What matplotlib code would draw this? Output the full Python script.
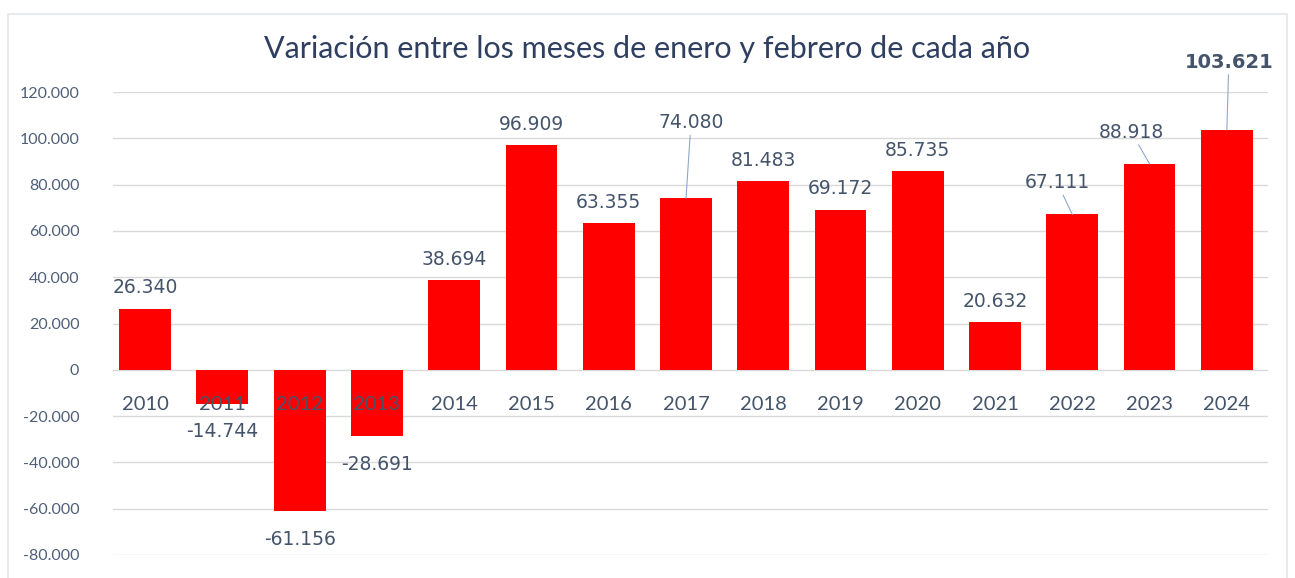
import matplotlib.pyplot as plt
from matplotlib.patches import Rectangle
from matplotlib.ticker import FuncFormatter

years = ['2010', '2011', '2012', '2013', '2014', '2015', '2016', '2017',
         '2018', '2019', '2020', '2021', '2022', '2023', '2024']
values = [26340, -14744, -61156, -28691, 38694, 96909, 63355, 74080,
          81483, 69172, 85735, 20632, 67111, 88918, 103621]
labels = ['26.340', '-14.744', '-61.156', '-28.691', '38.694', '96.909', '63.355', '74.080',
          '81.483', '69.172', '85.735', '20.632', '67.111', '88.918', '103.621']
title = 'Variación entre los meses de enero y febrero de cada año'

text_col = '#44546A'
grid_col = '#D9D9D9'

fig = plt.figure(figsize=(12.95, 5.78), dpi=100)
ax = fig.add_axes([0.087, 0.0398, 0.892, 0.801])

x = list(range(len(years)))
ax.bar(x, values, width=0.67, color='#FF0000', zorder=3)

ax.set_xlim(-0.42, 14.53)
ax.set_ylim(-80000, 120000)
ax.set_yticks(range(-80000, 120001, 20000))
ax.yaxis.set_major_formatter(FuncFormatter(lambda v, p: '0' if v == 0 else f'{int(v):,}'.replace(',', '.')))
ax.tick_params(axis='y', length=0, pad=24, labelsize=11.5, labelcolor='#4F5F78')
for t in ax.get_yticklabels():
    t.set_family('Lato')
ax.set_xticks([])
ax.grid(axis='y', color=grid_col, lw=1, zorder=0)
for s in ax.spines.values():
    s.set_visible(False)

# category labels sit just under the zero line
for i, yr in enumerate(years):
    ax.annotate(yr, (i, 0), xytext=(0, -35), textcoords='offset pixels',
                ha='center', va='center', fontsize=14.5, family='Lato',
                color=text_col, zorder=4)

# data labels, a few moved with leader lines
moved = {'2017': (5, 66), '2022': (-15, 22), '2023': (-18, 22), '2024': (2, 58)}
for i, (yr, v, lab) in enumerate(zip(years, values, labels)):
    bold = yr == '2024'
    if yr in moved:
        dx, dy = moved[yr]
        ax.annotate(lab, (i, v), xytext=(dx, dy), textcoords='offset pixels',
                    ha='center', va='bottom', fontsize=13.5 if not bold else 14,
                    fontweight='bold' if bold else 'normal', family='DejaVu Sans',
                    color=text_col, zorder=5,
                    arrowprops=dict(arrowstyle='-', color='#8EA9C8', lw=0.8,
                                    shrinkA=0, shrinkB=0))
    elif v >= 0:
        ax.annotate(lab, (i, v), xytext=(0, 21), textcoords='offset pixels',
                    ha='center', va='center', fontsize=13.5, family='DejaVu Sans',
                    color=text_col, zorder=5)
    else:
        ax.annotate(lab, (i, v), xytext=(0, -28), textcoords='offset pixels',
                    ha='center', va='center', fontsize=13.5, family='DejaVu Sans',
                    color=text_col, zorder=5)

fig.text(0.5, 0.915, title, ha='center', va='center', fontsize=22,
         family='Lato', color='#2F3F5F')

fig.patches.append(Rectangle((0.006, -0.01), 0.988, 0.985, transform=fig.transFigure,
                             fill=False, edgecolor='#E3E6EA', lw=1.2))

fig.savefig('out.png', dpi=100)
